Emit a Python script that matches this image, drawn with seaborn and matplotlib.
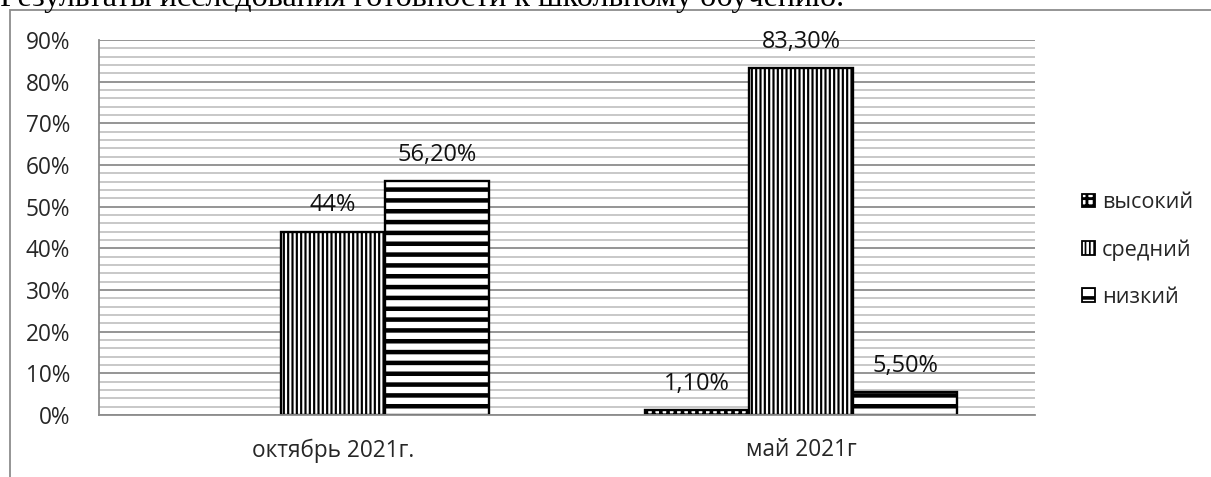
import numpy as np
import pandas as pd
import matplotlib
matplotlib.use('Agg')
import matplotlib.pyplot as plt
import seaborn as sns
from matplotlib.patches import Patch, Rectangle
from matplotlib.ticker import MultipleLocator, FixedLocator

# data
periods = ['октябрь 2021г.', 'май 2021г']
levels = ['высокий', 'средний', 'низкий']
vysokiy = [0.0, 1.1]
sredniy = [44.0, 83.3]
nizkiy = [56.2, 5.5]
label_vysokiy = ['', '1,10%']
label_sredniy = ['44%', '83,30%']
label_nizkiy = ['56,20%', '5,50%']
ytick_values = [0, 10, 20, 30, 40, 50, 60, 70, 80, 90]
title_text = 'Результаты исследования готовности к школьному обучению.'

df = pd.DataFrame({
    'period': periods * 3,
    'level': [levels[0]] * 2 + [levels[1]] * 2 + [levels[2]] * 2,
    'value': vysokiy + sredniy + nizkiy,
})
bar_texts = {levels[0]: label_vysokiy, levels[1]: label_sredniy, levels[2]: label_nizkiy}
hatches = {levels[0]: '+++', levels[1]: '|||||', levels[2]: '--'}
hatch_widths = {levels[0]: 2.0, levels[1]: 1.2, levels[2]: 2.5}

sns.set_style('white')
plt.rcParams['font.family'] = ['Open Sans', 'DejaVu Sans']
plt.rcParams['hatch.linewidth'] = 1.0

W, H, DPI = 1211, 477, 130
fig = plt.figure(figsize=(W / DPI, H / DPI), dpi=DPI)
ax = fig.add_axes([99 / W, 1 - 415 / H, (1035 - 99) / W, (415 - 40) / H])

sns.barplot(
    data=df, x='period', y='value', hue='level',
    order=periods, hue_order=levels,
    palette={lvl: 'white' for lvl in levels}, saturation=1,
    width=0.668, edgecolor='black', linewidth=1.3,
    errorbar=None, legend=False, ax=ax,
)

fs = 12.5
for container, lvl in zip(ax.containers, levels):
    for bar, txt in zip(container, bar_texts[lvl]):
        if bar.get_height() == 0:
            bar.set_visible(False)
            continue
        bar.set_hatch(hatches[lvl])
        if hasattr(bar, 'set_hatch_linewidth'):
            bar.set_hatch_linewidth(hatch_widths[lvl])
        ax.annotate(txt, (bar.get_x() + bar.get_width() / 2, bar.get_height()),
                    xytext=(0, 14.5), textcoords='offset points',
                    ha='center', va='center', fontsize=fs + 0.5, color='#111111')

ax.set_ylim(0, 90)
ax.set_xlim(-0.5, 1.5)
ax.set_yticks(ytick_values)
ax.set_yticklabels([f'{v}%' for v in ytick_values], fontsize=fs)
ax.yaxis.set_minor_locator(MultipleLocator(2))
ax.grid(which='major', axis='y', color='#8c8c8c', lw=1.0)
ax.grid(which='minor', axis='y', color='#c4c4c4', lw=1.0)
ax.set_axisbelow(True)

ax.xaxis.set_minor_locator(FixedLocator([-0.5, 0.5, 1.5]))
ax.tick_params(axis='x', which='major', length=0, labelsize=fs, pad=13)
ax.tick_params(axis='x', which='minor', length=4.5, width=1, color='#8c8c8c', direction='out')
ax.tick_params(axis='y', which='major', length=5, width=1, color='#8c8c8c', direction='out', pad=11)
ax.tick_params(axis='y', which='minor', length=0)
ax.set_xlabel('')
ax.set_ylabel('')
for side in ['top', 'right']:
    ax.spines[side].set_visible(False)
for side in ['left', 'bottom']:
    ax.spines[side].set_color('#8c8c8c')
    ax.spines[side].set_linewidth(1.0)

handles = []
for lvl in levels:
    p = Patch(facecolor='white', edgecolor='black', hatch=hatches[lvl], lw=1.0)
    handles.append(p)
leg = ax.legend(handles, levels, loc='center left', bbox_to_anchor=(1062 / W, 1 - 250 / H),
                bbox_transform=fig.transFigure, frameon=False, fontsize=12,
                handlelength=0.6, handleheight=0.6, handletextpad=0.35, labelspacing=1.2)
for p, lvl in zip(leg.get_patches(), levels):
    if hasattr(p, 'set_hatch_linewidth'):
        p.set_hatch_linewidth(hatch_widths[lvl] * 0.8)

# outer chart frame (cropped in the reference)
fig.add_artist(Rectangle((10 / W, -0.1), 1.2, 1.1 - 10 / H, transform=fig.transFigure,
                         fill=False, edgecolor='#8c8c8c', lw=1.0))
# title line cut off at the top of the picture
fig.text(0.0, 1 - 6 / H, title_text, family=['Liberation Serif', 'DejaVu Serif'],
         fontsize=17.8, va='baseline', ha='left', color='black')

fig.savefig('out.png', dpi=DPI)
